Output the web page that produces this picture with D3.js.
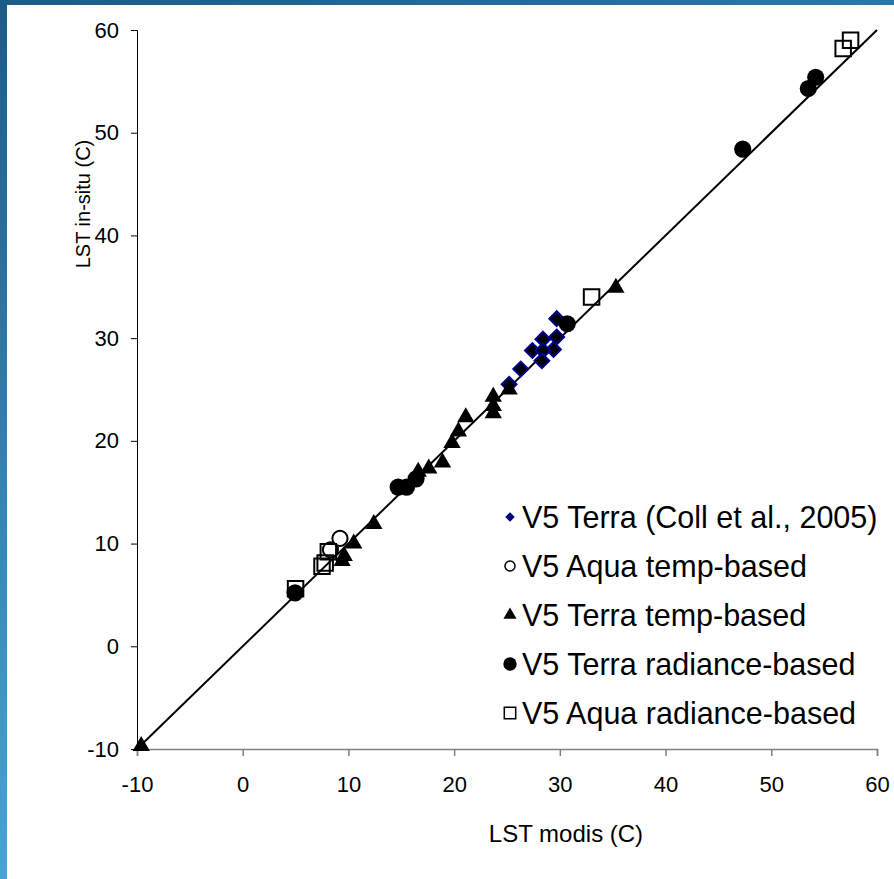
<!DOCTYPE html>
<html>
<head>
<meta charset="utf-8">
<script src="https://cdn.jsdelivr.net/npm/d3@7"></script>
<style>
  html, body { margin: 0; padding: 0; background: #fff; }
  #chart { width: 894px; height: 879px; }
  text { font-family: "Liberation Sans", Arial, sans-serif; fill: #000; }
</style>
</head>
<body>
<div id="chart"></div>
<script>
// axis ticks
var xTicks = [-10, 0, 10, 20, 30, 40, 50, 60];
var yTicks = [-10, 0, 10, 20, 30, 40, 50, 60];

// series (x = LST modis, y = LST in-situ)
var terraCollX = [29.7, 29.7, 28.4, 29.4, 27.4, 28.4, 28.3, 26.3, 25.2];
var terraCollY = [31.9, 30.1, 29.9, 28.9, 28.8, 28.8, 27.8, 27.0, 25.5];

var aquaTempX = [8.3, 9.2];
var aquaTempY = [9.4, 10.5];

var terraTempX = [-9.6, 9.4, 9.6, 10.5, 12.4, 16.6, 17.6, 18.9, 19.8, 20.4, 21.1, 23.7, 23.7, 23.7, 25.2, 35.3];
var terraTempY = [-9.7, 8.3, 8.8, 10.0, 11.9, 17.0, 17.3, 17.9, 19.8, 20.9, 22.3, 22.7, 23.4, 24.3, 25.0, 34.9];

var terraRadX = [4.95, 14.7, 15.5, 16.4, 30.7, 47.3, 53.5, 54.2];
var terraRadY = [5.2, 15.5, 15.5, 16.3, 31.4, 48.4, 54.3, 55.4];

var aquaRadX = [5.0, 7.5, 7.8, 8.1, 33.0, 56.8, 57.5];
var aquaRadY = [5.6, 7.8, 8.1, 9.2, 34.0, 58.2, 59.0];

var legendLabels = [
  'V5 Terra (Coll et al., 2005)',
  'V5 Aqua temp-based',
  'V5 Terra temp-based',
  'V5 Terra radiance-based',
  'V5 Aqua radiance-based'
];

var W = 894, H = 879;
var margin = {top: 30, right: 17, bottom: 130, left: 137};

var svg = d3.select('#chart').append('svg')
  .attr('width', W)
  .attr('height', H);

// blue frame on top and left
var defs = svg.append('defs');
var gTop = defs.append('linearGradient').attr('id', 'gTop')
  .attr('x1', 0).attr('y1', 0).attr('x2', 1).attr('y2', 0);
gTop.append('stop').attr('offset', 0).attr('stop-color', '#1b5b88');
gTop.append('stop').attr('offset', 1).attr('stop-color', '#2b79a7');
var gLeft = defs.append('linearGradient').attr('id', 'gLeft')
  .attr('x1', 0).attr('y1', 0).attr('x2', 0).attr('y2', 1);
gLeft.append('stop').attr('offset', 0).attr('stop-color', '#1b5b88');
gLeft.append('stop').attr('offset', 1).attr('stop-color', '#4aa2d7');

svg.append('rect').attr('x', 0).attr('y', 0).attr('width', W).attr('height', 5).attr('fill', 'url(#gTop)');
svg.append('rect').attr('x', 0).attr('y', 0).attr('width', 7).attr('height', H).attr('fill', 'url(#gLeft)');

var x = d3.scaleLinear().domain([-10, 60]).range([margin.left, W - margin.right]);
var y = d3.scaleLinear().domain([-10, 60]).range([H - margin.bottom, margin.top]);

var fmt = function(d) { return String(d); };

// axes
var xAxis = svg.append('g')
  .attr('transform', 'translate(0,' + y(-10) + ')')
  .call(d3.axisBottom(x).tickValues(xTicks).tickSize(7).tickPadding(20).tickFormat(fmt));
xAxis.select('.domain').attr('stroke', '#808080').attr('stroke-width', 1.5);
xAxis.selectAll('.tick line').attr('stroke', '#808080').attr('stroke-width', 1.5);
xAxis.selectAll('.tick text').style('font-size', '22px');

var yAxis = svg.append('g')
  .attr('transform', 'translate(' + x(-10) + ',0)')
  .call(d3.axisLeft(y).tickValues(yTicks).tickSize(6).tickPadding(12).tickFormat(fmt));
yAxis.select('.domain').attr('stroke', '#000').attr('stroke-width', 1);
yAxis.selectAll('.tick line').attr('stroke', '#000');
yAxis.selectAll('.tick text').style('font-size', '22px');

// axis titles
svg.append('text')
  .attr('x', 566)
  .attr('y', 842)
  .attr('text-anchor', 'middle')
  .style('font-size', '24px')
  .text('LST modis (C)');

svg.append('text')
  .attr('transform', 'translate(90,204) rotate(-90)')
  .attr('text-anchor', 'middle')
  .style('font-size', '20px')
  .text('LST in-situ (C)');

// 1:1 line
svg.append('line')
  .attr('x1', x(-10)).attr('y1', y(-10))
  .attr('x2', x(60)).attr('y2', y(60))
  .attr('stroke', '#000').attr('stroke-width', 2);

function pts(xs, ys) {
  return xs.map(function(d, i) { return {x: d, y: ys[i]}; });
}

var diamond = d3.symbol().type(d3.symbolSquare).size(110);
var tri = d3.symbol().type(d3.symbolTriangle).size(130);
var circ = d3.symbol().type(d3.symbolCircle).size(230);
var ocirc = d3.symbol().type(d3.symbolCircle).size(180);
var sq = d3.symbol().type(d3.symbolSquare).size(240);

svg.selectAll('.coll')
  .data(pts(terraCollX, terraCollY))
.enter().append('path')
  .attr('class', 'coll')
  .attr('d', diamond)
  .attr('transform', function(d) { return 'translate(' + x(d.x) + ',' + y(d.y) + ') rotate(45)'; })
  .attr('fill', '#000')
  .attr('stroke', '#000090')
  .attr('stroke-width', 2);

svg.selectAll('.aquatemp')
  .data(pts(aquaTempX, aquaTempY))
.enter().append('path')
  .attr('class', 'aquatemp')
  .attr('d', ocirc)
  .attr('transform', function(d) { return 'translate(' + x(d.x) + ',' + y(d.y) + ')'; })
  .attr('fill', 'none')
  .attr('stroke', '#000')
  .attr('stroke-width', 2);

svg.selectAll('.terratemp')
  .data(pts(terraTempX, terraTempY))
.enter().append('path')
  .attr('class', 'terratemp')
  .attr('d', tri)
  .attr('transform', function(d) { return 'translate(' + x(d.x) + ',' + y(d.y) + ')'; })
  .attr('fill', '#000');

svg.selectAll('.terrarad')
  .data(pts(terraRadX, terraRadY))
.enter().append('path')
  .attr('class', 'terrarad')
  .attr('d', circ)
  .attr('transform', function(d) { return 'translate(' + x(d.x) + ',' + y(d.y) + ')'; })
  .attr('fill', '#000');

svg.selectAll('.aquarad')
  .data(pts(aquaRadX, aquaRadY))
.enter().append('path')
  .attr('class', 'aquarad')
  .attr('d', sq)
  .attr('transform', function(d) { return 'translate(' + x(d.x) + ',' + y(d.y) + ')'; })
  .attr('fill', 'none')
  .attr('stroke', '#000')
  .attr('stroke-width', 2);

// legend
var legendSymbols = [
  {sym: d3.symbol().type(d3.symbolSquare).size(45), rot: 45, fill: '#000080', stroke: 'none'},
  {sym: d3.symbol().type(d3.symbolCircle).size(80), rot: 0, fill: 'none', stroke: '#000'},
  {sym: d3.symbol().type(d3.symbolTriangle).size(75), rot: 0, fill: '#000', stroke: 'none'},
  {sym: d3.symbol().type(d3.symbolCircle).size(140), rot: 0, fill: '#000', stroke: 'none'},
  {sym: d3.symbol().type(d3.symbolSquare).size(130), rot: 0, fill: 'none', stroke: '#000'}
];

var legend = svg.selectAll('.legend')
  .data(legendLabels)
.enter().append('g')
  .attr('class', 'legend')
  .attr('transform', function(d, i) { return 'translate(510,' + (517 + i * 49) + ')'; });

legend.append('path')
  .attr('d', function(d, i) { return legendSymbols[i].sym(); })
  .attr('transform', function(d, i) { return 'rotate(' + legendSymbols[i].rot + ')'; })
  .attr('fill', function(d, i) { return legendSymbols[i].fill; })
  .attr('stroke', function(d, i) { return legendSymbols[i].stroke; })
  .attr('stroke-width', 1.5);

legend.append('text')
  .attr('x', 12)
  .attr('dy', '0.35em')
  .style('font-size', '30.5px')
  .text(function(d) { return d; });
</script>
</body>
</html>
